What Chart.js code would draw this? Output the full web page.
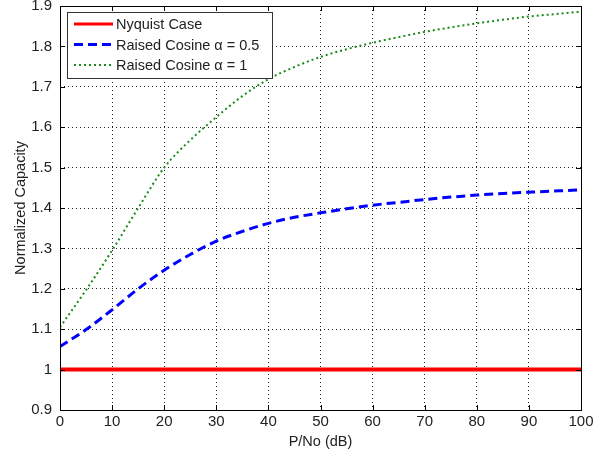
<!DOCTYPE html>
<html>
<head>
<meta charset="utf-8">
<script src="https://cdn.jsdelivr.net/npm/chart.js@4.4.1/dist/chart.umd.min.js"></script>
<style>
  html, body { margin: 0; padding: 0; background: #fff; }
  #wrap { width: 607px; height: 455px; position: relative; }
</style>
</head>
<body>
<div id="wrap"><canvas id="capacityChart"></canvas></div>
<script>
const snrDb = [0, 5, 10, 15, 20, 25, 30, 35, 40, 45, 50, 55, 60, 65, 70, 75, 80, 85, 90, 95, 100];
const nyquist = [1, 1, 1, 1, 1, 1, 1, 1, 1, 1, 1, 1, 1, 1, 1, 1, 1, 1, 1, 1, 1];
const raisedHalf = [1.057, 1.099, 1.148, 1.200, 1.246, 1.285, 1.318, 1.342, 1.362, 1.377, 1.388,
  1.398, 1.407, 1.414, 1.421, 1.427, 1.432, 1.436, 1.439, 1.442, 1.445];
const raisedOne = [1.105, 1.197, 1.295, 1.400, 1.500, 1.568, 1.625, 1.677, 1.719, 1.749, 1.774,
  1.793, 1.809, 1.823, 1.836, 1.847, 1.857, 1.866, 1.874, 1.880, 1.886];
const xTicks = [0, 10, 20, 30, 40, 50, 60, 70, 80, 90, 100];
const yTicks = [0.9, 1, 1.1, 1.2, 1.3, 1.4, 1.5, 1.6, 1.7, 1.8, 1.9];

const fontFamily = "'Liberation Sans', Arial, sans-serif";
const textColor = "#222";

function toPoints(ys) {
  return snrDb.map((x, i) => ({ x: x, y: ys[i] }));
}

// box, inward ticks and legend drawn like a matlab figure
const matlabFrame = {
  id: "matlabFrame",
  afterDatasetsDraw(chart) {
    const ctx = chart.ctx;
    const a = chart.chartArea;
    const xs = chart.scales.x;
    const ys = chart.scales.y;
    ctx.save();
    ctx.strokeStyle = "#000";
    ctx.lineWidth = 1;
    ctx.setLineDash([]);
    ctx.beginPath();
    xTicks.forEach((v) => {
      const px = Math.round(xs.getPixelForValue(v)) + 0.5;
      ctx.moveTo(px, a.bottom);
      ctx.lineTo(px, a.bottom - 5);
      ctx.moveTo(px, a.top);
      ctx.lineTo(px, a.top + 5);
    });
    yTicks.forEach((v) => {
      const py = Math.round(ys.getPixelForValue(v)) + 0.5;
      ctx.moveTo(a.left, py);
      ctx.lineTo(a.left + 5, py);
      ctx.moveTo(a.right, py);
      ctx.lineTo(a.right - 5, py);
    });
    ctx.stroke();
    ctx.strokeRect(Math.round(a.left) + 0.5, Math.round(a.top) + 0.5,
      Math.round(a.right - a.left), Math.round(a.bottom - a.top));

    // legend
    const lx = a.left + 7, ly = a.top + 6, lw = 205, lh = 66;
    ctx.fillStyle = "#fff";
    ctx.fillRect(lx, ly, lw, lh);
    ctx.strokeStyle = "#333";
    ctx.strokeRect(lx + 0.5, ly + 0.5, lw, lh);
    ctx.font = "14.5px " + fontFamily;
    ctx.textBaseline = "middle";
    chart.data.datasets.forEach((ds, i) => {
      const ry = ly + 12 + i * 20.5;
      ctx.strokeStyle = ds.borderColor;
      ctx.lineWidth = ds.legendWidth;
      ctx.setLineDash(ds.borderDash || []);
      ctx.beginPath();
      ctx.moveTo(lx + 7, ry);
      ctx.lineTo(lx + 46, ry);
      ctx.stroke();
      ctx.setLineDash([]);
      ctx.fillStyle = textColor;
      ctx.fillText(ds.label, lx + 49, ry + 1);
    });
    ctx.restore();
  },
};

const grafico = new Chart(document.getElementById("capacityChart"), {
  type: "line",
  data: {
    datasets: [
      {
        label: "Nyquist Case",
        data: toPoints(nyquist),
        borderColor: "#ff0000",
        borderWidth: 4,
        legendWidth: 3,
        pointRadius: 0,
      },
      {
        label: "Raised Cosine \u03b1 = 0.5",
        data: toPoints(raisedHalf),
        borderColor: "#0000ff",
        borderWidth: 3,
        legendWidth: 3,
        borderDash: [9, 5],
        pointRadius: 0,
        cubicInterpolationMode: "monotone",
      },
      {
        label: "Raised Cosine \u03b1 = 1",
        data: toPoints(raisedOne),
        borderColor: "#1a8a1a",
        borderWidth: 2,
        legendWidth: 2,
        borderDash: [2, 3],
        pointRadius: 0,
        cubicInterpolationMode: "monotone",
      },
    ],
  },
  options: {
    responsive: true,
    maintainAspectRatio: false,
    animation: false,
    layout: { padding: { top: 6, right: 26, left: 0, bottom: 0 } },
    plugins: { legend: { display: false }, tooltip: { enabled: false } },
    scales: {
      x: {
        type: "linear",
        min: 0,
        max: 100,
        afterBuildTicks: (s) => { s.ticks = xTicks.map((v) => ({ value: v })); },
        afterFit: (s) => { s.height = 45; s.paddingLeft = 0; s.paddingRight = 0; },
        ticks: { color: textColor, font: { family: fontFamily, size: 15 }, padding: 3, maxRotation: 0 },
        grid: { color: "#222", lineWidth: 1, drawTicks: false },
        border: { display: false, dash: [1, 3] },
        title: { display: true, text: "P/No (dB)", color: textColor, font: { family: fontFamily, size: 14.5 }, padding: { top: 0 } },
      },
      y: {
        min: 0.9,
        max: 1.9,
        afterBuildTicks: (s) => { s.ticks = yTicks.map((v) => ({ value: v })); },
        afterFit: (s) => { s.width = 60; s.paddingTop = 0; s.paddingBottom = 0; },
        ticks: { color: textColor, font: { family: fontFamily, size: 15 }, padding: 8, callback: (v) => String(Math.round(v * 10) / 10) },
        grid: { color: "#222", lineWidth: 1, drawTicks: false },
        border: { display: false, dash: [1, 3] },
        title: { display: true, text: "Normalized Capacity", color: textColor, font: { family: fontFamily, size: 14.5 }, padding: { top: 12, bottom: 0 } },
      },
    },
  },
  plugins: [matlabFrame],
});
</script>
</body>
</html>
